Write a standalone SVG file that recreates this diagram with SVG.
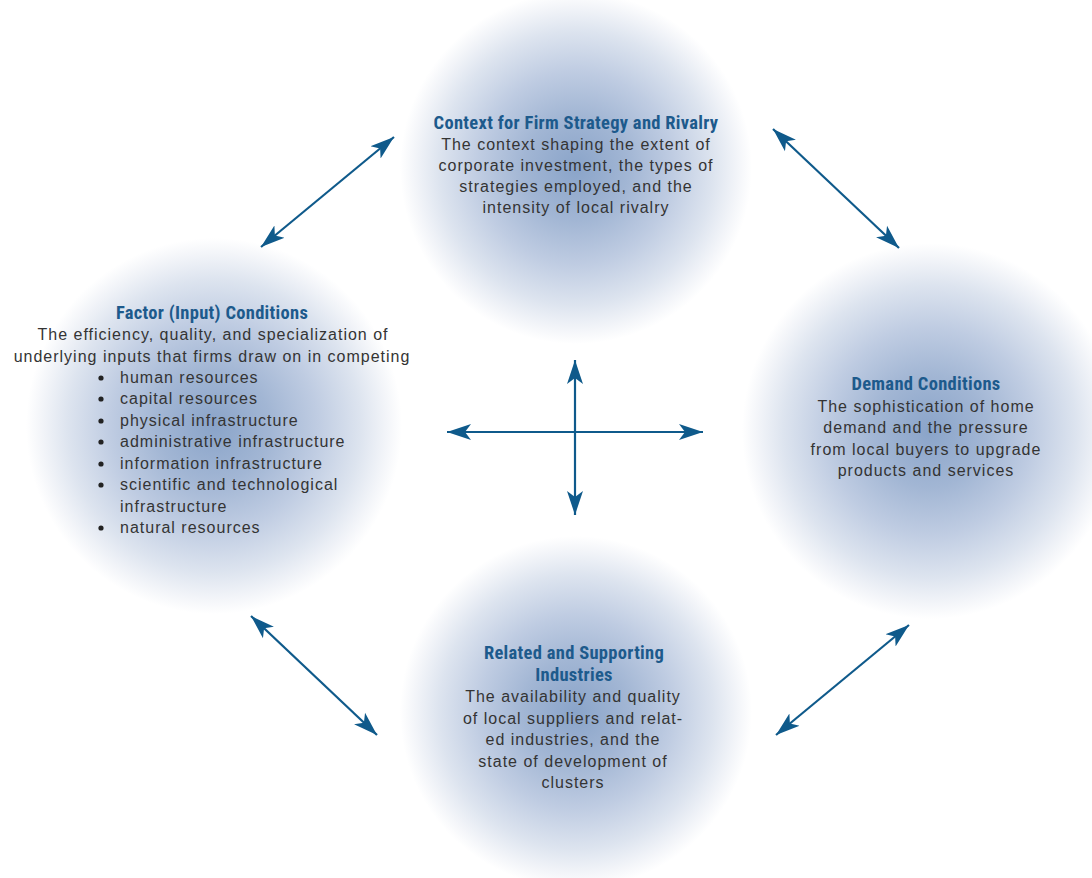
<svg xmlns="http://www.w3.org/2000/svg" width="1092" height="878" viewBox="0 0 1092 878">
  <style>
    .title { font-family: "Liberation Sans Narrow", "Roboto Condensed", "Liberation Sans", sans-serif; font-weight: bold; font-size: 18.5px; fill: #1d5a8c; text-anchor: middle; letter-spacing: 0.3px; }
    .body { font-family: "Liberation Sans", Arial, sans-serif; font-size: 16px; fill: #343434; text-anchor: middle; letter-spacing: 1px; }
    .item { font-family: "Liberation Sans", Arial, sans-serif; font-size: 16px; fill: #343434; letter-spacing: 1px; }
    .dot { fill: #222222; }
    .link { stroke: #0f5a8b; stroke-width: 2.2; fill: none; marker-start: url(#head); marker-end: url(#head); }
  </style>
  <defs>
    <radialGradient id="glow" cx="0.5" cy="0.5" r="0.5">
      <stop offset="0" stop-color="#8aa4c9"/>
      <stop offset="0.3" stop-color="#a2b6d4"/>
      <stop offset="0.55" stop-color="#bfcce2"/>
      <stop offset="0.78" stop-color="#dde4ef"/>
      <stop offset="0.92" stop-color="#f3f5f9"/>
      <stop offset="1" stop-color="#ffffff"/>
    </radialGradient>
    <marker id="head" viewBox="0 -9 24 18" refX="24" refY="0" markerWidth="24" markerHeight="18" markerUnits="userSpaceOnUse" orient="auto-start-reverse">
      <path d="M24,0 L0,-8 L6,0 L0,8 Z" fill="#0f5a8b"/>
    </marker>
  </defs>

  <rect width="1092" height="878" fill="#ffffff"/>

  <!-- Context for Firm Strategy and Rivalry -->
  <g id="strategy">
    <circle cx="576" cy="168" r="176" fill="url(#glow)"/>
    <text class="title" x="576" y="129">Context for Firm Strategy and Rivalry</text>
    <text class="body" x="576" y="150">The context shaping the extent of</text>
    <text class="body" x="576" y="171">corporate investment, the types of</text>
    <text class="body" x="576" y="192">strategies employed, and  the</text>
    <text class="body" x="576" y="213">intensity of local rivalry</text>
  </g>

  <!-- Factor (Input) Conditions -->
  <g id="factor">
    <circle cx="214" cy="426" r="188" fill="url(#glow)"/>
    <text class="title" x="212" y="319">Factor (Input) Conditions</text>
    <text class="body" x="213" y="340">The efficiency, quality, and specialization of</text>
    <text class="body" x="212" y="362">underlying inputs that firms draw on in competing</text>
    <g class="dot">
      <circle cx="101" cy="378" r="2.6"/>
      <circle cx="101" cy="399" r="2.6"/>
      <circle cx="101" cy="421" r="2.6"/>
      <circle cx="101" cy="442" r="2.6"/>
      <circle cx="101" cy="464" r="2.6"/>
      <circle cx="101" cy="485" r="2.6"/>
      <circle cx="101" cy="528" r="2.6"/>
    </g>
    <g class="item">
      <text x="120" y="383">human resources</text>
      <text x="120" y="404">capital resources</text>
      <text x="120" y="426">physical infrastructure</text>
      <text x="120" y="447">administrative infrastructure</text>
      <text x="120" y="469">information infrastructure</text>
      <text x="120" y="490">scientific and technological</text>
      <text x="120" y="512">infrastructure</text>
      <text x="120" y="533">natural resources</text>
    </g>
  </g>

  <!-- Demand Conditions -->
  <g id="demand">
    <circle cx="930" cy="431" r="188" fill="url(#glow)"/>
    <text class="title" x="926" y="390">Demand Conditions</text>
    <text class="body" x="926" y="412">The sophistication of home</text>
    <text class="body" x="926" y="433">demand and the pressure</text>
    <text class="body" x="926" y="455">from local buyers to upgrade</text>
    <text class="body" x="926" y="476">products and services</text>
  </g>

  <!-- Related and Supporting Industries -->
  <g id="related">
    <circle cx="576" cy="712" r="176" fill="url(#glow)"/>
    <text class="title" x="574" y="659">Related and Supporting</text>
    <text class="title" x="574" y="681">Industries</text>
    <text class="body" x="573" y="702">The availability and quality</text>
    <text class="body" x="573" y="724">of local suppliers and relat-</text>
    <text class="body" x="573" y="745">ed industries, and the</text>
    <text class="body" x="573" y="767">state of development of</text>
    <text class="body" x="573" y="788">clusters</text>
  </g>

  <!-- two-headed connectors between the four determinants -->
  <g id="connectors">
    <line class="link" x1="261" y1="247" x2="394" y2="137"/>
    <line class="link" x1="773" y1="129" x2="899" y2="248"/>
    <line class="link" x1="251" y1="616" x2="377" y2="735"/>
    <line class="link" x1="776" y1="735" x2="909" y2="625"/>
    <line class="link" x1="575" y1="360" x2="575" y2="515"/>
    <line class="link" x1="447" y1="432" x2="703" y2="432"/>
  </g>
</svg>
